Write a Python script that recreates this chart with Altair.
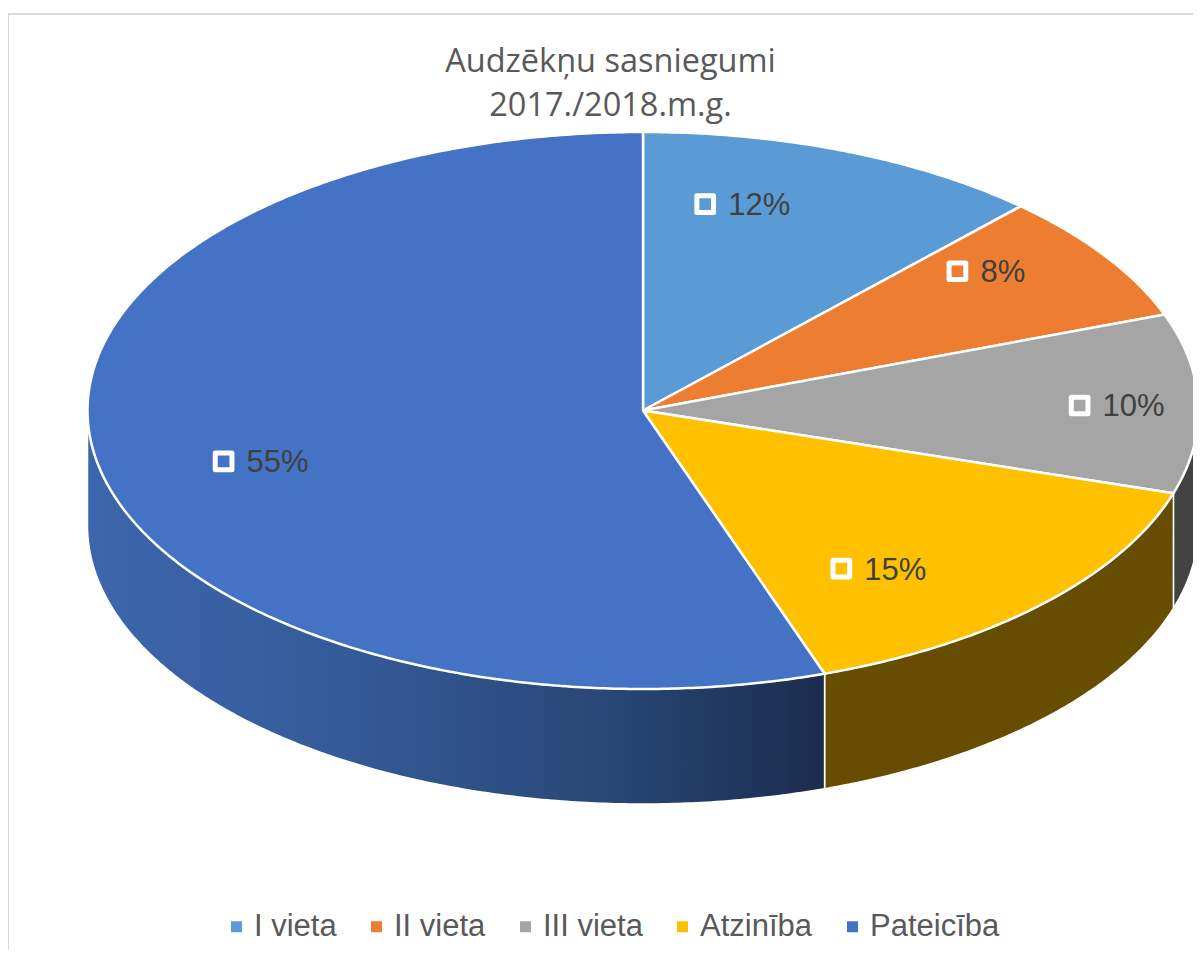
import math
import altair as alt

categories = ["I vieta", "II vieta", "III vieta", "Atzinība", "Pateicība"]
values = [11.9, 7.5, 10.4, 14.9, 55.3]
top_colors = ["#5B9BD5", "#ED7D31", "#A5A5A5", "#FFC000", "#4472C4"]
title_lines = ["Audzēkņu sasniegumi", "2017./2018.m.g."]

W, H = 1185, 942
RX, RY, DEPTH = 555.5, 278.5, 115
CX, CY = 635, 402.5


def projection(i):
    # a negligibly different translate keeps each layer's projection separate,
    # so that Vega-Lite does not merge them and re-fit them to the view
    return dict(type="identity", scale=1, translate=[CX + i * 1e-6, CY])


def pt(deg, drop=0.0):
    a = math.radians(deg)
    return [RX * math.sin(a), -RY * math.cos(a) + drop]


def arc(a0, a1, drop=0.0, step=0.5):
    n = max(2, int(abs(a1 - a0) / step))
    return [pt(a0 + (a1 - a0) * i / n, drop) for i in range(n + 1)]


def feature(ring, **props):
    return {"type": "Feature", "properties": props,
            "geometry": {"type": "Polygon", "coordinates": [ring + [ring[0]]]}}


edges = [0]
for v in values:
    edges.append(edges[-1] + v * 3.6)

top_features = [
    feature([[0, 0]] + arc(edges[i], edges[i + 1]), name=categories[i])
    for i in range(len(values))
]


def wall(a0, a1):
    return feature(arc(a0, a1) + arc(a1, a0, DEPTH))


wall_grey = wall(90, edges[3])
wall_yellow = wall(edges[3], edges[4])
wall_blue = wall(edges[4], 270)

blue_gradient = alt.Gradient(
    gradient="linear", x1=0, x2=1, y1=0, y2=0,
    stops=[
        alt.GradientStop(offset=0, color="#3D66AC"),
        alt.GradientStop(offset=0.35, color="#345A98"),
        alt.GradientStop(offset=0.7, color="#294777"),
        alt.GradientStop(offset=1, color="#1B2C4E"),
    ],
)


def wall_layer(feat, fill, i):
    return (
        alt.Chart(alt.Data(values=[feat]))
        .mark_geoshape(fill=fill, stroke="#FFFFFF", strokeWidth=1.5)
        .project(**projection(i))
    )


walls = [
    wall_layer(wall_grey, "#424242", 0),
    wall_layer(wall_yellow, "#664D00", 1),
    wall_layer(wall_blue, blue_gradient, 2),
]

top = (
    alt.Chart(alt.Data(values=top_features))
    .mark_geoshape(stroke="#FFFFFF", strokeWidth=2.5)
    .encode(
        color=alt.Color(
            "properties.name:N",
            scale=alt.Scale(domain=categories, range=top_colors),
            legend=alt.Legend(
                title=None, orient="none", legendX=213, legendY=903,
                direction="horizontal", columns=5, columnPadding=24,
                symbolType="square", symbolSize=121, symbolStrokeWidth=0,
                labelFont="Liberation Sans", labelFontSize=31,
                labelColor="#595959", labelOffset=2, labelLimit=300,
            ),
        )
    )
    .project(**projection(3))
)

label_fx = [0.112, 0.566, 0.786, 0.357, -0.755]
label_fy = [-0.741, -0.5, -0.018, 0.568, 0.183]
label_rows = [
    {"cat": c, "pct": f"{v:.0f}%", "lon": fx * RX, "lat": fy * RY}
    for c, v, fx, fy in zip(categories, values, label_fx, label_fy)
]
labels_data = alt.Data(values=label_rows)

markers = (
    alt.Chart(labels_data)
    .mark_point(shape="square", size=279, stroke="#FFFFFF", strokeWidth=5,
                strokeJoin="round", filled=False, opacity=1, fillOpacity=1)
    .encode(
        longitude="lon:Q",
        latitude="lat:Q",
        fill=alt.Fill("cat:N", scale=alt.Scale(domain=categories, range=top_colors), legend=None),
    )
    .project(**projection(4))
)

texts = (
    alt.Chart(labels_data)
    .mark_text(align="left", baseline="middle", dx=23, dy=2, font="Liberation Sans",
               fontSize=31, color="#404040")
    .encode(longitude="lon:Q", latitude="lat:Q", text="pct:N")
    .project(**projection(5))
)

frame_top = alt.Chart(alt.Data(values=[{"a": 0}])).mark_rule(color="#D9D9D9", strokeWidth=2).encode(
    x=alt.value(0), x2=alt.value(W), y=alt.value(6))
frame_left = alt.Chart(alt.Data(values=[{"a": 0}])).mark_rule(color="#D9D9D9", strokeWidth=2).encode(
    x=alt.value(0), y=alt.value(6), y2=alt.value(H))

chart = (
    alt.layer(frame_top, frame_left, *walls, top, markers, texts)
    .resolve_scale(color="independent", fill="independent")
    .properties(
        width=W, height=H, padding=0,
        autosize=alt.AutoSizeParams(type="none"),
        title=alt.TitleParams(
            text=title_lines, font="Open Sans", fontSize=32.5, fontWeight="normal",
            color="#595959", anchor="middle", frame="group", orient="top",
            baseline="top", lineHeight=44, dx=10, dy=118,
        ),
    )
    .configure_view(stroke=None)
)

chart.save("out.html", embed_options={"renderer": "svg", "actions": False})
